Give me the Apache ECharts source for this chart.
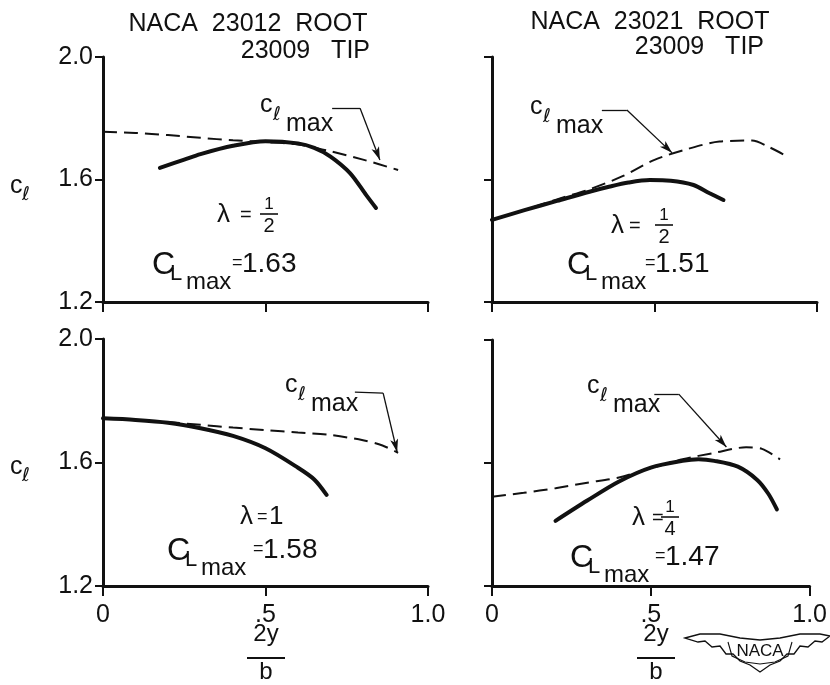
<!DOCTYPE html>
<html>
<head>
<meta charset="utf-8">
<script src="https://cdn.jsdelivr.net/npm/echarts@6/dist/echarts.min.js"></script>
<style>
  html, body { margin: 0; padding: 0; background: #fff; }
  #main { width: 830px; height: 685px; }
</style>
</head>
<body>
<div id="main"></div>
<script>
// spanwise section lift coefficient, 2y/b vs c_l
var xTicks = [0, 0.5, 1.0]
var yTicks = [1.2, 1.6, 2.0]

// NACA 23012 root / 23009 tip, taper 1/2
var clmaxA = [[0, 1.756], [0.1, 1.752], [0.2, 1.745], [0.3, 1.736], [0.4, 1.728], [0.5, 1.722], [0.6, 1.714], [0.7, 1.692], [0.8, 1.665], [0.908, 1.631]]
var clA = [[0.175, 1.638], [0.25, 1.665], [0.3, 1.683], [0.4, 1.71], [0.5, 1.725], [0.6, 1.718], [0.65, 1.703], [0.7, 1.675], [0.76, 1.621], [0.81, 1.549], [0.84, 1.507]]

// NACA 23021 root / 23009 tip, taper 1/2
var clmaxB = [[0, 1.468], [0.1, 1.50], [0.2, 1.535], [0.3, 1.568], [0.4, 1.61], [0.5, 1.664], [0.6, 1.699], [0.7, 1.724], [0.8, 1.727], [0.85, 1.707], [0.9, 1.68]]
var clB = [[0, 1.468], [0.1, 1.50], [0.2, 1.53], [0.3, 1.56], [0.363, 1.577], [0.42, 1.59], [0.486, 1.598], [0.55, 1.596], [0.62, 1.582], [0.668, 1.556], [0.712, 1.533]]

// NACA 23012 root / 23009 tip, taper 1
var clmaxC = [[0, 1.743], [0.1, 1.738], [0.2, 1.731], [0.3, 1.722], [0.4, 1.713], [0.5, 1.705], [0.6, 1.697], [0.7, 1.689], [0.8, 1.672], [0.86, 1.655], [0.908, 1.631]]
var clC = [[0, 1.743], [0.1, 1.738], [0.2, 1.729], [0.3, 1.711], [0.4, 1.686], [0.5, 1.646], [0.6, 1.583], [0.65, 1.545], [0.688, 1.495]]

// NACA 23021 root / 23009 tip, taper 1/4
var clmaxD = [[0, 1.49], [0.1, 1.503], [0.2, 1.518], [0.3, 1.536], [0.4, 1.553], [0.5, 1.583], [0.6, 1.612], [0.7, 1.633], [0.8, 1.651], [0.85, 1.646], [0.907, 1.612]]
var clD = [[0.2, 1.412], [0.3, 1.478], [0.4, 1.54], [0.5, 1.585], [0.6, 1.607], [0.65, 1.612], [0.7, 1.607], [0.774, 1.588], [0.835, 1.545], [0.87, 1.50], [0.897, 1.449]]

// leader lines for the c_lmax labels (data space)
var leaderA = [[0.705, 1.833], [0.791, 1.833], [0.852, 1.664]]
var leaderB = [[0.338, 1.827], [0.415, 1.827], [0.554, 1.687]]
var leaderC = [[0.775, 1.828], [0.862, 1.825], [0.905, 1.634]]
var leaderD = [[0.511, 1.824], [0.588, 1.824], [0.738, 1.652]]

var INK = '#111'
var FONT = "'Liberation Sans', 'DejaVu Sans', sans-serif"
var SCRIPT = "'DejaVu Sans', sans-serif"

var chart = echarts.init(document.getElementById('main'))

function xAx (i, labels) {
  return {
    gridIndex: i,
    type: 'value',
    min: xTicks[0],
    max: xTicks[2],
    interval: 0.5,
    axisLine: { onZero: false, lineStyle: { color: INK, width: 3 } },
    axisTick: { show: true, length: 10, lineStyle: { color: INK, width: 2 } },
    splitLine: { show: false },
    axisLabel: {
      show: labels,
      margin: 17,
      fontSize: 25,
      color: INK,
      fontFamily: FONT,
      formatter: function (v) {
        if (v === 0) return '0'
        if (v === 0.5) return '.5'
        return '1.0'
      }
    }
  }
}

function yAx (i, labels) {
  return {
    gridIndex: i,
    type: 'value',
    min: yTicks[0],
    max: yTicks[2],
    interval: 0.4,
    axisLine: { onZero: false, lineStyle: { color: INK, width: 3 } },
    axisTick: { show: true, length: 8, lineStyle: { color: INK, width: 2 } },
    splitLine: { show: false },
    axisLabel: {
      show: labels,
      margin: 10,
      fontSize: 25,
      color: INK,
      fontFamily: FONT,
      formatter: function (v) { return v.toFixed(1) }
    }
  }
}

function leader (pts) {
  return {
    silent: true,
    animation: false,
    symbol: ['none', 'arrow'],
    symbolSize: [6, 13],
    label: { show: false },
    emphasis: { disabled: true },
    lineStyle: { color: INK, width: 1.3, type: 'solid' },
    data: [
      [{ coord: pts[0], symbol: 'none' }, { coord: pts[1], symbol: 'none' }],
      [{ coord: pts[1], symbol: 'none' }, { coord: pts[2] }]
    ]
  }
}

function pair (i, dashed, solid, lead) {
  return [
    {
      type: 'line',
      xAxisIndex: i,
      yAxisIndex: i,
      data: dashed,
      smooth: 0.3,
      showSymbol: false,
      silent: true,
      lineStyle: { color: INK, width: 2, type: [14, 7] },
      markLine: leader(lead)
    },
    {
      type: 'line',
      xAxisIndex: i,
      yAxisIndex: i,
      data: solid,
      smooth: 0.3,
      showSymbol: false,
      silent: true,
      lineStyle: { color: INK, width: 4, cap: 'round' }
    }
  ]
}

function txt (x, y, s, size, align, family) {
  return {
    type: 'text',
    x: x,
    y: y,
    silent: true,
    style: {
      text: s,
      font: size + 'px ' + (family || FONT),
      fill: INK,
      textAlign: align || 'left',
      textVerticalAlign: 'middle',
      align: align || 'left',
      verticalAlign: 'middle'
    }
  }
}

function rule (x1, x2, y, w) {
  return { type: 'line', silent: true, shape: { x1: x1, y1: y, x2: x2, y2: y }, style: { stroke: INK, lineWidth: w || 1.5 } }
}

// c sub l max label
function clmaxLabel (x, y) {
  return [
    txt(x, y, 'c', 25),
    txt(x + 13, y + 10, 'ℓ', 19, 'left', SCRIPT),
    txt(x + 26, y + 19, 'max', 25)
  ]
}

// C sub L max = value
function bigClLabel (x, y, valDx, val) {
  return [
    txt(x, y, 'C', 32),
    txt(x + 18, y + 9, 'L', 22),
    txt(x + 34, y + 17, 'max', 24),
    txt(x + valDx - 10, y - 2, '=', 18),
    txt(x + valDx, y - 1, val, 28)
  ]
}

function lambdaFrac (x, y, eqDx, fracDx, num, den) {
  return [
    txt(x, y, 'λ', 26),
    txt(x + eqDx, y, '=', 20),
    txt(x + fracDx, y - 11, num, 17, 'center'),
    rule(x + fracDx - 9, x + fracDx + 9, y - 1, 1.6),
    txt(x + fracDx, y + 11, den, 20, 'center')
  ]
}

function spanLabel (cx) {
  return [
    txt(cx, 634, '2y', 24, 'center'),
    rule(cx - 19, cx + 19, 658, 2),
    txt(cx, 672, 'b', 24, 'center')
  ]
}

var graphics = []
  .concat([
    txt(248, 24, 'NACA  23012  ROOT', 25, 'center'),
    txt(370, 51, '23009   TIP', 25, 'right'),
    txt(650, 22, 'NACA  23021  ROOT', 25, 'center'),
    txt(764, 47, '23009   TIP', 25, 'right'),
    txt(10, 186, 'c', 25),
    txt(22, 195, 'ℓ', 19, 'left', SCRIPT),
    txt(10, 467, 'c', 25),
    txt(22, 476, 'ℓ', 19, 'left', SCRIPT)
  ])
  .concat(clmaxLabel(260, 105))
  .concat(clmaxLabel(530, 107))
  .concat(clmaxLabel(285, 385))
  .concat(clmaxLabel(587, 386))
  .concat(lambdaFrac(217, 215, 23, 52, '1', '2'))
  .concat(lambdaFrac(611, 226, 18, 53, '1', '2'))
  .concat(lambdaFrac(632, 518, 20, 38, '1', '4'))
  .concat([
    txt(240, 517, 'λ', 26),
    txt(257, 517, '=', 18),
    txt(269, 517, '1', 26)
  ])
  .concat(bigClLabel(152, 265, 90, '1.63'))
  .concat(bigClLabel(567, 265, 88, '1.51'))
  .concat(bigClLabel(167, 551, 96, '1.58'))
  .concat(bigClLabel(570, 558, 95, '1.47'))
  .concat(spanLabel(266))
  .concat(spanLabel(656))
  .concat([
    // NACA wings emblem
    {
      type: 'polygon',
      silent: true,
      shape: {
        points: [[685, 638], [700, 634], [720, 634], [740, 638], [760, 640], [780, 638], [800, 634], [820, 634], [830, 636],
          [822, 642], [815, 641], [808, 647], [800, 646], [794, 654], [787, 654], [780, 661], [770, 665], [760, 672],
          [750, 665], [740, 661], [733, 654], [726, 654], [720, 646], [712, 647], [705, 641], [698, 642]]
      },
      style: { fill: '#fff', stroke: INK, lineWidth: 1.3 }
    },
    {
      type: 'polyline',
      silent: true,
      shape: { points: [[728, 642], [732, 656], [745, 662], [760, 664], [775, 662], [788, 656], [792, 642]] },
      style: { fill: 'none', stroke: INK, lineWidth: 1.1 }
    },
    txt(760, 651, 'NACA', 17, 'center')
  ])

var option = {
  backgroundColor: '#fff',
  animation: false,
  grid: [
    { left: 103, top: 57, width: 325, height: 245 },
    { left: 492, top: 57, width: 325, height: 245 },
    { left: 103, top: 339, width: 325, height: 247 },
    { left: 492, top: 340, width: 325, height: 246 }
  ],
  xAxis: [xAx(0, false), xAx(1, false), xAx(2, true), xAx(3, true)],
  yAxis: [yAx(0, true), yAx(1, false), yAx(2, true), yAx(3, false)],
  series: []
    .concat(pair(0, clmaxA, clA, leaderA))
    .concat(pair(1, clmaxB, clB, leaderB))
    .concat(pair(2, clmaxC, clC, leaderC))
    .concat(pair(3, clmaxD, clD, leaderD)),
  graphic: { elements: graphics }
}

chart.setOption(option)
</script>
</body>
</html>
